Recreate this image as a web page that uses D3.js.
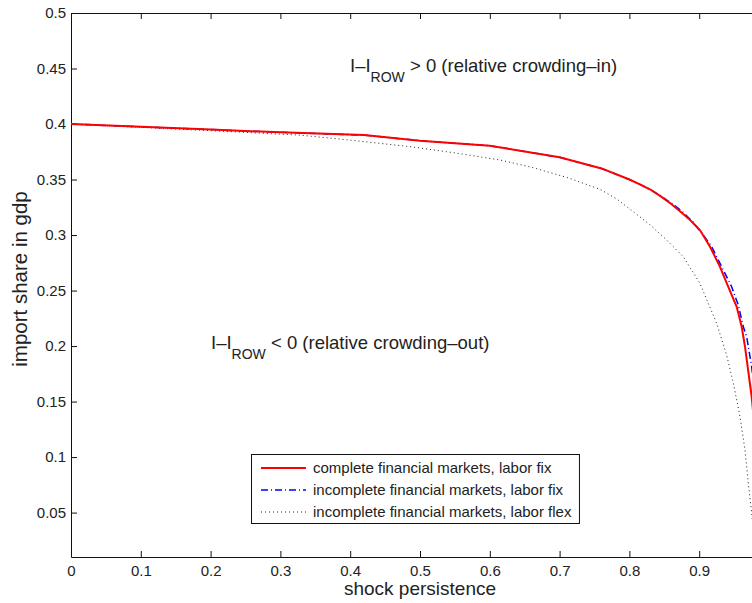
<!DOCTYPE html>
<html><head><meta charset="utf-8">
<script src="https://cdn.jsdelivr.net/npm/d3@7"></script>
<style>body{margin:0;background:#fff;overflow:hidden}svg{display:block}text{font-family:"Liberation Sans",Arial,sans-serif;fill:#222}</style>
</head><body>
<script>
const xTicks = [0,0.1,0.2,0.3,0.4,0.5,0.6,0.7,0.8,0.9];
const yTicks = [0.05,0.1,0.15,0.2,0.25,0.3,0.35,0.4,0.45,0.5];
const seriesNames = ["complete financial markets, labor fix","incomplete financial markets, labor fix","incomplete financial markets, labor flex"];
const redX = [0,0.1,0.2,0.3,0.42,0.5,0.6,0.7,0.76,0.8,0.815,0.83,0.845,0.86,0.875,0.887,0.901,0.9155,0.9298,0.9417,0.9537,0.9609,0.9656,0.9752,0.985];
const redY = [0.400,0.3975,0.395,0.3925,0.390,0.385,0.3805,0.370,0.360,0.350,0.3457,0.341,0.3348,0.328,0.320,0.3135,0.3045,0.2895,0.2714,0.2534,0.2354,0.2174,0.1994,0.1543,0.09];
const blueX = [0,0.1,0.2,0.3,0.42,0.5,0.6,0.7,0.76,0.8,0.815,0.83,0.845,0.86,0.875,0.89,0.9059,0.9179,0.9322,0.9465,0.956,0.9632,0.968,0.9752,0.985];
const blueY = [0.400,0.3975,0.395,0.3925,0.390,0.385,0.3805,0.370,0.360,0.350,0.3457,0.341,0.3352,0.3288,0.3215,0.3125,0.300,0.2895,0.2714,0.2534,0.2369,0.2174,0.2084,0.1814,0.12];
const blackX = [0,0.1,0.2,0.328,0.4,0.486,0.55,0.6146,0.66,0.71,0.758,0.7825,0.8056,0.83,0.8534,0.8772,0.901,0.925,0.9393,0.949,0.9585,0.9656,0.9704,0.9752,0.98];
const blackY = [0.400,0.397,0.394,0.390,0.3855,0.3796,0.374,0.3676,0.361,0.352,0.3412,0.3322,0.321,0.309,0.2955,0.2805,0.2565,0.2205,0.1919,0.1664,0.1363,0.1063,0.0763,0.0495,0.02];

const W=752,H=603;
const svg=d3.select("body").append("svg").attr("width",W).attr("height",H);
const x=d3.scaleLinear().domain([0,1]).range([71,769]);
const y=d3.scaleLinear().domain([0.01,0.5]).range([557,13]);

const g=svg.append("g");
g.append("g").attr("transform","translate(0,557)").call(d3.axisBottom(x).tickValues(xTicks).tickSizeInner(-6).tickSizeOuter(0).tickPadding(8).tickFormat(d=>String(d)));
g.append("g").attr("transform","translate(0,13)").call(d3.axisTop(x).tickValues(xTicks).tickSizeInner(-6).tickSizeOuter(0).tickFormat(""));
g.append("g").attr("transform","translate(71,0)").call(d3.axisLeft(y).tickValues(yTicks).tickSizeInner(-6).tickSizeOuter(0).tickPadding(5).tickFormat(d=>String(d)));
g.append("g").attr("transform","translate(769,0)").call(d3.axisRight(y).tickValues(yTicks).tickSizeInner(-6).tickSizeOuter(0).tickFormat(""));
g.selectAll(".domain").attr("stroke","#111").attr("stroke-width",1);
g.selectAll(".tick line").attr("stroke","#111");
g.selectAll(".tick text").style("font-size","15px").style("font-family","Liberation Sans, Arial, sans-serif").attr("fill","#222");

const line=d3.line().x(d=>x(d[0])).y(d=>y(d[1]));
const zip=(a,b)=>a.map((v,i)=>[v,b[i]]);
svg.append("path").datum(zip(blackX,blackY)).attr("d",line).attr("fill","none").attr("stroke","#222").attr("stroke-width",1).attr("stroke-dasharray","1,3");
svg.append("path").datum(zip(blueX,blueY)).attr("d",line).attr("fill","none").attr("stroke","#0000ff").attr("stroke-width",1.5).attr("stroke-dasharray","7,3,1,3");
svg.append("path").datum(zip(redX,redY)).attr("d",line).attr("fill","none").attr("stroke","#ff0000").attr("stroke-width",2);

svg.append("text").attr("x",420).attr("y",595).attr("text-anchor","middle").style("font-size","19px").text("shock persistence");
svg.append("text").attr("transform","translate(27,279) rotate(-90)").attr("text-anchor","middle").style("font-size","20.5px").text("import share in gdp");

function ann(px,py,rel){
  const t=svg.append("text").attr("x",px).attr("y",py).style("font-size","18.5px");
  t.append("tspan").text("I\u2013I");
  t.append("tspan").attr("dy",10).style("font-size","14px").text("ROW");
  t.append("tspan").attr("dy",-10).text(rel);
}
ann(350,72," > 0 (relative crowding\u2013in)");
ann(211,349," < 0 (relative crowding\u2013out)");

const lg=svg.append("g");
const box=lg.append("rect").attr("x",251.5).attr("y",454.5).attr("height",69).attr("fill","#fff").attr("stroke","#111").attr("stroke-width",1);
const styles=[{c:"#ff0000",w:2,d:null},{c:"#0000ff",w:1.5,d:"7,3,1,3"},{c:"#222",w:1,d:"1,3"}];
let maxR=0;
seriesNames.forEach((n,i)=>{
  const ly=468+i*22;
  lg.append("line").attr("x1",261).attr("x2",306).attr("y1",ly).attr("y2",ly).attr("stroke",styles[i].c).attr("stroke-width",styles[i].w).attr("stroke-dasharray",styles[i].d);
  const t=lg.append("text").attr("x",313).attr("y",ly+5).style("font-size","15px").text(n);
  maxR=Math.max(maxR,313+t.node().getComputedTextLength());
});
box.attr("width",maxR+8-251.5);
</script>
</body></html>
